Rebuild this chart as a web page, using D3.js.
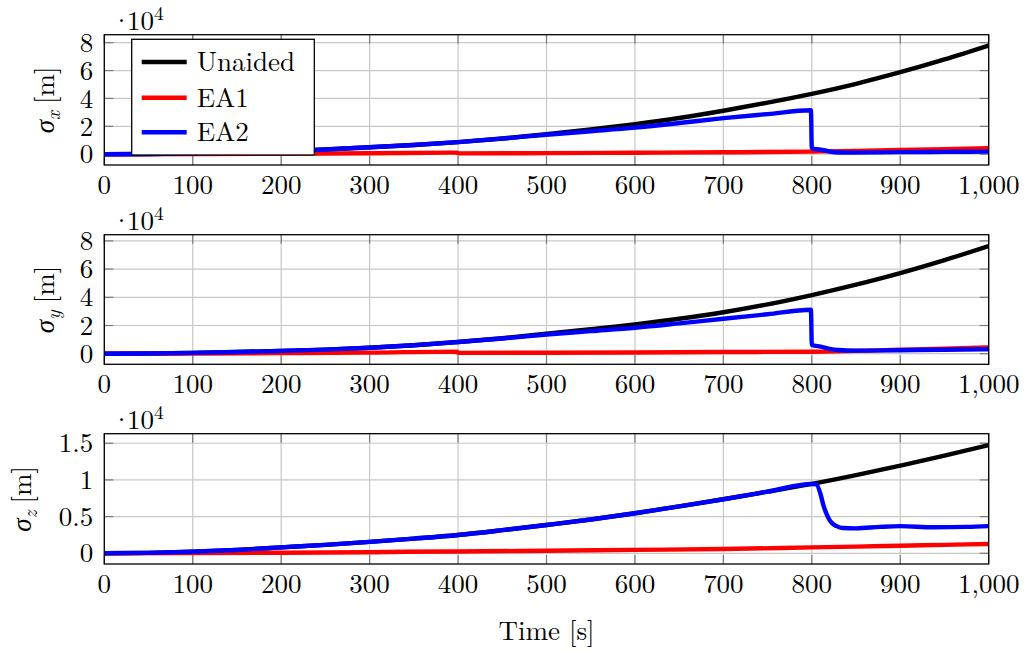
<!DOCTYPE html>
<html>
<head>
<meta charset="utf-8">
<script src="https://cdn.jsdelivr.net/npm/d3@7"></script>
<style>
  html, body { margin: 0; padding: 0; background: #fff; }
  svg { display: block; }
</style>
</head>
<body>
<svg id="chart" width="1026" height="651"></svg>
<script>
// Position standard deviations, in units of 10^4 m.
const timeCoarse = [0, 50, 100, 150, 200, 250, 300, 350, 400, 450, 500, 550, 600, 650, 700, 750, 800, 850, 900, 950, 1000];

const unaidedX = [0, 0.02, 0.06, 0.12, 0.21, 0.34, 0.5, 0.66, 0.87, 1.13, 1.44, 1.78, 2.16, 2.6, 3.12, 3.7, 4.33, 5.05, 5.88, 6.8, 7.8];
const unaidedY = [0, 0.02, 0.06, 0.12, 0.2, 0.29, 0.42, 0.6, 0.83, 1.1, 1.42, 1.74, 2.08, 2.48, 2.94, 3.5, 4.16, 4.9, 5.72, 6.64, 7.64];
const unaidedZ = [0, 0.005, 0.02, 0.045, 0.08, 0.115, 0.155, 0.2, 0.25, 0.315, 0.386, 0.46, 0.545, 0.64, 0.736, 0.84, 0.945, 1.065, 1.195, 1.33, 1.475];

// EA1 resets slightly at t = 400 s
const timeEA1 = [0, 100, 200, 300, 399, 400, 500, 600, 700, 800, 850, 900, 950, 1000];
const ea1X = [0, 0.01, 0.03, 0.07, 0.12, 0.06, 0.08, 0.11, 0.14, 0.19, 0.24, 0.3, 0.37, 0.44];
const ea1Y = [0, 0.01, 0.04, 0.08, 0.15, 0.06, 0.07, 0.09, 0.12, 0.14, 0.2, 0.28, 0.36, 0.45];
const ea1Z = [0, 0.003, 0.008, 0.015, 0.025, 0.025, 0.035, 0.047, 0.058, 0.08, 0.091, 0.103, 0.115, 0.127];

// EA2 drops sharply once aiding starts near t = 800 s
const timeEA2xy = [0, 50, 100, 150, 200, 250, 300, 350, 400, 450, 500, 550, 600, 650, 700, 750, 799, 800, 810, 820, 830, 850, 900, 950, 1000];
const ea2X = [0, 0.02, 0.06, 0.12, 0.21, 0.34, 0.5, 0.66, 0.87, 1.12, 1.4, 1.65, 1.91, 2.24, 2.59, 2.88, 3.15, 0.42, 0.33, 0.2, 0.13, 0.12, 0.15, 0.17, 0.19];
const ea2Y = [0, 0.02, 0.06, 0.12, 0.2, 0.29, 0.42, 0.6, 0.83, 1.08, 1.36, 1.6, 1.84, 2.15, 2.48, 2.8, 3.12, 0.62, 0.5, 0.35, 0.26, 0.22, 0.25, 0.28, 0.32];

const timeEA2z = [0, 50, 100, 150, 200, 250, 300, 350, 400, 450, 500, 550, 600, 650, 700, 750, 800, 805, 810, 813, 818, 822, 828, 835, 850, 877, 900, 937, 975, 1000];
const ea2Z = [0, 0.005, 0.02, 0.045, 0.08, 0.115, 0.155, 0.2, 0.25, 0.315, 0.386, 0.46, 0.545, 0.64, 0.736, 0.84, 0.945, 0.94, 0.8, 0.66, 0.5, 0.42, 0.37, 0.345, 0.34, 0.36, 0.37, 0.355, 0.36, 0.37];

const xTicks = [0, 100, 200, 300, 400, 500, 600, 700, 800, 900, 1000];
const yTicksXY = [0, 2, 4, 6, 8];
const yTicksZ = [0, 0.5, 1, 1.5];

const seriesNames = ["Unaided", "EA1", "EA2"];
const seriesColors = ["#000000", "#ff0000", "#0000ff"];

const zip = (t, v) => t.map((d, i) => [d, v[i]]);

const panels = [
  { axis: "x", top: 34.7, bottom: 165, yDomain: [-0.77, 8.57], ticks: yTicksXY, labelX: 45,
    lines: [zip(timeCoarse, unaidedX), zip(timeEA1, ea1X), zip(timeEA2xy, ea2X)] },
  { axis: "y", top: 234.7, bottom: 364.3, yDomain: [-0.75, 8.44], ticks: yTicksXY, labelX: 45,
    lines: [zip(timeCoarse, unaidedY), zip(timeEA1, ea1Y), zip(timeEA2xy, ea2Y)] },
  { axis: "z", top: 433.7, bottom: 564, yDomain: [-0.146, 1.63], ticks: yTicksZ, labelX: 22,
    lines: [zip(timeCoarse, unaidedZ), zip(timeEA1, ea1Z), zip(timeEA2z, ea2Z)] }
];

const FONT = "'Latin Modern Roman', 'CMU Serif', 'Liberation Serif', 'DejaVu Serif', 'Noto Serif', 'TeX Gyre Termes', 'Nimbus Roman', FreeSerif, 'Times New Roman', Times, serif";
const svg = d3.select("#chart").attr("font-family", FONT);
const left = 104.3, right = 988.7;
const x = d3.scaleLinear().domain([0, 1000]).range([left, right]);
const FS = 27;
const tickLen = 9;

panels.forEach((p, pi) => {
  const y = d3.scaleLinear().domain(p.yDomain).range([p.bottom, p.top]);
  const g = svg.append("g");

  // grid
  g.append("g").selectAll("line").data(xTicks).join("line")
    .attr("x1", d => x(d)).attr("x2", d => x(d))
    .attr("y1", p.top).attr("y2", p.bottom)
    .attr("stroke", "#c8c8c8").attr("stroke-width", 1.2);
  g.append("g").selectAll("line").data(p.ticks).join("line")
    .attr("x1", left).attr("x2", right)
    .attr("y1", d => y(d)).attr("y2", d => y(d))
    .attr("stroke", "#c8c8c8").attr("stroke-width", 1.2);

  // inward tick marks on all four sides
  const tg = g.append("g").attr("stroke", "#7a7a7a").attr("stroke-width", 1.2);
  xTicks.forEach(d => {
    tg.append("line").attr("x1", x(d)).attr("x2", x(d)).attr("y1", p.bottom).attr("y2", p.bottom - tickLen);
    tg.append("line").attr("x1", x(d)).attr("x2", x(d)).attr("y1", p.top).attr("y2", p.top + tickLen);
  });
  p.ticks.forEach(d => {
    tg.append("line").attr("x1", left).attr("x2", left + tickLen).attr("y1", y(d)).attr("y2", y(d));
    tg.append("line").attr("x1", right).attr("x2", right - tickLen).attr("y1", y(d)).attr("y2", y(d));
  });

  // data lines
  const line = d3.line().x(d => x(d[0])).y(d => y(d[1])).curve(d3.curveMonotoneX);
  const clipId = "clip" + pi;
  svg.append("clipPath").attr("id", clipId).append("rect")
    .attr("x", left).attr("y", p.top).attr("width", right - left).attr("height", p.bottom - p.top);
  const lg = g.append("g").attr("clip-path", `url(#${clipId})`);
  p.lines.forEach((pts, si) => {
    lg.append("path").datum(pts).attr("d", line)
      .attr("fill", "none").attr("stroke", seriesColors[si])
      .attr("stroke-width", 4.4).attr("stroke-linejoin", "round").attr("stroke-linecap", "butt");
  });

  // frame
  g.append("rect").attr("x", left).attr("y", p.top)
    .attr("width", right - left).attr("height", p.bottom - p.top)
    .attr("fill", "none").attr("stroke", "#000").attr("stroke-width", 1.3);

  // tick labels
  g.append("g").selectAll("text").data(xTicks).join("text")
    .attr("x", d => x(d)).attr("y", p.bottom + 29)
    .attr("text-anchor", "middle").attr("font-size", FS)
    .text(d3.format(","));
  g.append("g").selectAll("text").data(p.ticks).join("text")
    .attr("x", left - 11).attr("y", d => y(d))
    .attr("dy", "0.34em")
    .attr("text-anchor", "end").attr("font-size", FS)
    .text(d => String(d));

  // scale factor
  const sf = g.append("text").attr("x", 111).attr("y", p.top - 4.5).attr("font-size", FS);
  sf.append("tspan").text("\u00b7");
  sf.append("tspan").attr("dx", -5).text("10");
  sf.append("tspan").attr("font-size", FS * 0.72).attr("dy", -10).text("4");

  // y label
  const cy = (p.top + p.bottom) / 2;
  const yl = g.append("text")
    .attr("transform", `translate(${p.labelX + 9},${cy}) rotate(-90)`)
    .attr("text-anchor", "middle").attr("font-size", FS);
  yl.append("tspan").attr("font-style", "italic").text("\u03c3");
  yl.append("tspan").attr("font-style", "italic").attr("font-size", FS * 0.72).attr("dy", 6).text(p.axis);
  yl.append("tspan").attr("dy", -6).attr("dx", 7).text("[m]");
});

// x-axis title
svg.append("text").attr("x", 546.5).attr("y", 640)
  .attr("text-anchor", "middle").attr("font-size", FS).text("Time [s]");

// legend
const leg = svg.append("g");
leg.append("rect").attr("x", 131.7).attr("y", 39.3).attr("width", 182.6).attr("height", 115.7)
  .attr("fill", "#fff").attr("stroke", "#000").attr("stroke-width", 1.3);
const rowY = [62, 97.7, 132.3];
seriesNames.forEach((name, i) => {
  leg.append("line").attr("x1", 141.7).attr("x2", 186.7)
    .attr("y1", rowY[i]).attr("y2", rowY[i])
    .attr("stroke", seriesColors[i]).attr("stroke-width", 4.4);
  leg.append("text").attr("x", 196.7).attr("y", rowY[i]).attr("dy", "0.34em")
    .attr("font-size", FS).text(name);
});
</script>
</body>
</html>
